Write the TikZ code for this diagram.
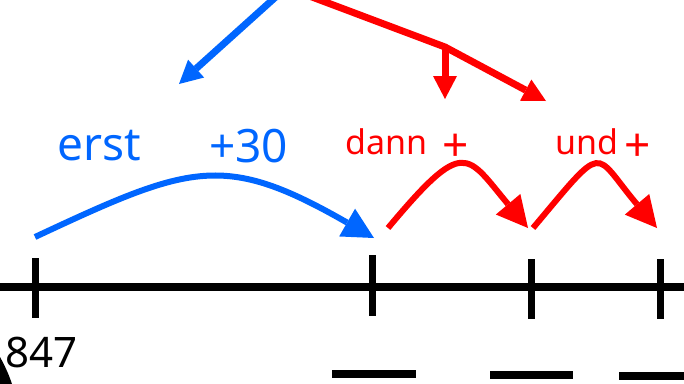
\documentclass[tikz,border=0pt]{standalone}
\usepackage{fontspec}
\setmainfont{Noto Sans}
\usetikzlibrary{arrows.meta}
\definecolor{myblue}{RGB}{0,102,255}
\definecolor{myred}{RGB}{255,0,0}
\begin{document}
\begin{tikzpicture}[x=1pt,y=-1pt,
  bluetxt/.style={text=myblue,font=\fontsize{46}{46}\selectfont,inner sep=0pt,anchor=base west},
  redtxt/.style={text=myred,font=\fontsize{34}{34}\selectfont,inner sep=0pt,anchor=base west},
  redplus/.style={text=myred,font=\fontsize{46}{46}\selectfont,inner sep=0pt,anchor=center},
  blacktxt/.style={text=black,font=\fontsize{42}{42}\selectfont,inner sep=0pt,anchor=base west},
  tipsmall/.style={-{Triangle[length=23pt,width=24pt,line width=0pt]}},
  tipbig/.style={-{Triangle[length=31pt,width=32pt,line width=0pt]}},
  blueline/.style={draw=myblue,line width=7pt},
  redline/.style={draw=myred,line width=7pt},
  bluearc/.style={draw=myblue,line width=6pt},
  redarc/.style={draw=myred,line width=6pt},
  axisline/.style={draw=black,line width=8pt},
  tickline/.style={draw=black,line width=7pt},
  blankline/.style={draw=black,line width=8pt}]
\useasboundingbox (0,0) rectangle (684,383);
% top arrows
\coordinate (bstart) at (279,-6);
\coordinate (btip) at (179,84);
\draw[blueline,tipsmall] (bstart) -- (btip);
\coordinate (rstart) at (304,-6);
\coordinate (rjoin) at (445,47);
\coordinate (rtipA) at (445,99);
\coordinate (rtipB) at (546,101);
\draw[redline,tipsmall,line join=miter] (rstart) -- (rjoin) -- (rtipB);
\draw[redline,tipsmall] (rjoin) -- (rtipA);
% labels
\node[bluetxt] (erst) at (57,160) {erst};
\node[bluetxt] (plus30) at (209,162) {+30};
\node[redtxt] (dann) at (345,154) {dann};
\node[redplus] (p1) at (456,148) {+};
\node[redtxt] (und) at (555,154) {und};
\node[redplus] (p2) at (638,148) {+};
% number line
\coordinate (L) at (0,287);
\coordinate (R) at (684,287);
\draw[axisline] (L) -- (R);
\coordinate (t1a) at (35,258); \coordinate (t1b) at (35,318);
\coordinate (t2a) at (372,255); \coordinate (t2b) at (372,316);
\coordinate (t3a) at (531,259); \coordinate (t3b) at (531,319);
\coordinate (t4a) at (660,259); \coordinate (t4b) at (660,319);
\draw[tickline] (t1a) -- (t1b);
\draw[tickline] (t2a) -- (t2b);
\draw[tickline] (t3a) -- (t3b);
\draw[tickline] (t4a) -- (t4b);
% jump arcs
\coordinate (a0) at (35,237);
\coordinate (a1) at (374,238);
\draw[bluearc,tipbig] (a0) .. controls (191,164) and (224,152) .. (a1);
\coordinate (c0) at (388,228);
\coordinate (c1) at (528,228);
\draw[redarc,tipbig] (c0) .. controls (465,136) and (466,154) .. (c1);
\coordinate (d0) at (533,228);
\coordinate (d1) at (657,228);
\draw[redarc,tipbig] (d0) .. controls (607,140) and (592,151) .. (d1);
% start number
\node[blacktxt] (n847) at (5,367) {847};
% blanks
\coordinate (u1a) at (332,374); \coordinate (u1b) at (416,374);
\coordinate (u2a) at (490,375); \coordinate (u2b) at (573,375);
\coordinate (u3a) at (619,376); \coordinate (u3b) at (690,376);
\draw[blankline] (u1a) -- (u1b);
\draw[blankline] (u2a) -- (u2b);
\draw[blankline] (u3a) -- (u3b);
% corner wedge
\fill[black] (0,357) .. controls (5,366) and (9,375) .. (12,384) -- (0,384) -- cycle;
\end{tikzpicture}
\end{document}
